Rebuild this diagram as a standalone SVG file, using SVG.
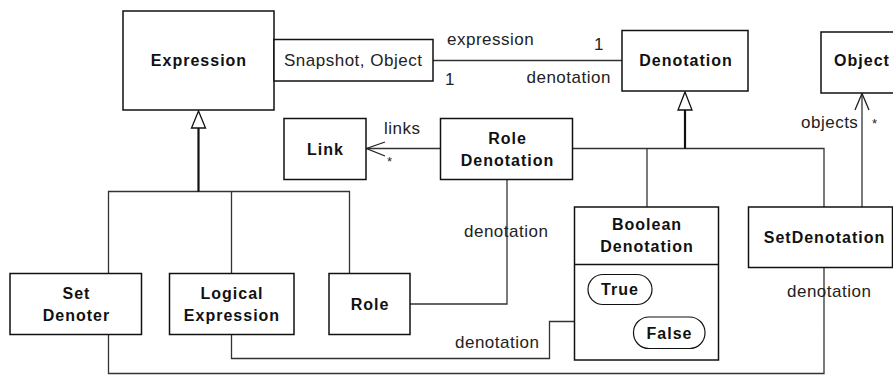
<svg xmlns="http://www.w3.org/2000/svg" width="893" height="376" viewBox="0 0 893 376">
  <defs>
    <style>
      .box { fill: #ffffff; stroke: #111111; stroke-width: 1.5; }
      .pill { fill: #ffffff; stroke: #111111; stroke-width: 1.2; }
      .name { font-family: "Liberation Sans", Arial, sans-serif; font-size: 16px; font-weight: bold; letter-spacing: 1px; fill: #111111; text-anchor: middle; }
      .lbl { font-family: "Liberation Sans", Arial, sans-serif; font-size: 17px; letter-spacing: 0.5px; fill: #222222; }
      .star { font-family: "Liberation Sans", Arial, sans-serif; font-size: 13px; fill: #222222; }
      .wire { fill: none; stroke: #333333; stroke-width: 1.3; }
      .stem { fill: none; stroke: #111111; stroke-width: 2.2; }
      .tri { fill: #ffffff; stroke: #111111; stroke-width: 1.3; }
      .open { fill: none; stroke: #222222; stroke-width: 1.3; }
    </style>
  </defs>
  <rect width="893" height="376" fill="#ffffff"/>

  <!-- connectors -->
  <g id="connectors">
    <!-- qualified association Expression / Denotation -->
    <line class="wire" x1="433" y1="60.5" x2="622" y2="60.5"/>
    <!-- Expression generalization tree -->
    <path class="wire" d="M108.5 273.5 V191.5 H349.5 V273.5 M231.5 191.5 V273.5"/>
    <path class="stem" d="M198.5 128 V191.5"/>
    <polygon class="tri" points="198.5,111 191.5,128 205.5,128"/>
    <!-- Denotation generalization tree -->
    <path class="wire" d="M572.5 148.5 H824 V207 M647 148.5 V207"/>
    <path class="stem" d="M685 110 V148.5"/>
    <polygon class="tri" points="685,92 678,110 692,110"/>
    <!-- Role Denotation links -> Link -->
    <line class="wire" x1="440" y1="148.5" x2="366.5" y2="148.5"/>
    <polyline class="open" points="385,142 366.5,148.5 385,156"/>
    <!-- Role / Role Denotation -->
    <path class="wire" d="M410 304 H507 V179.5"/>
    <!-- Logical Expression / Boolean Denotation -->
    <path class="wire" d="M231.5 334.5 V358.5 H549.5 V321.5 H574.5"/>
    <!-- Set Denoter / SetDenotation -->
    <path class="wire" d="M108.5 334.5 V373.5 H824 V267.5"/>
    <!-- SetDenotation objects -> Object -->
    <line class="wire" x1="862" y1="207" x2="862" y2="93.5"/>
    <polyline class="open" points="855,110 862,93.5 869,110"/>
  </g>

  <!-- connector labels -->
  <g id="labels">
    <text class="lbl" x="447" y="45">expression</text>
    <text class="lbl" x="594" y="50">1</text>
    <text class="lbl" x="445" y="85">1</text>
    <text class="lbl" x="526.5" y="83">denotation</text>
    <text class="lbl" x="384" y="134">links</text>
    <text class="star" x="387" y="166">*</text>
    <text class="lbl" x="801" y="128">objects</text>
    <text class="star" x="872" y="128">*</text>
    <text class="lbl" x="464" y="237">denotation</text>
    <text class="lbl" x="455" y="348">denotation</text>
    <text class="lbl" x="787" y="297">denotation</text>
  </g>

  <g id="expression">
    <rect class="box" x="123" y="11" width="151" height="99"/>
    <text class="name" x="199" y="66">Expression</text>
  </g>
  <g id="qualifier">
    <rect class="box" x="274" y="39.5" width="159" height="41.5"/>
    <text class="lbl" x="284" y="66">Snapshot, Object</text>
  </g>
  <g id="denotation">
    <rect class="box" x="622" y="30.5" width="126" height="60.5"/>
    <text class="name" x="686" y="66">Denotation</text>
  </g>
  <g id="object">
    <rect class="box" x="821" y="32" width="90" height="61"/>
    <text class="name" x="862" y="66">Object</text>
  </g>
  <g id="link">
    <rect class="box" x="284" y="118.5" width="82" height="61"/>
    <text class="name" x="325.5" y="154.5">Link</text>
  </g>
  <g id="role-denotation">
    <rect class="box" x="440.5" y="118.5" width="132" height="61"/>
    <text class="name" x="507.5" y="143.5">Role</text>
    <text class="name" x="507.5" y="166">Denotation</text>
  </g>
  <g id="set-denoter">
    <rect class="box" x="10" y="273.5" width="131.5" height="61"/>
    <text class="name" x="76.5" y="299">Set</text>
    <text class="name" x="76.5" y="321">Denoter</text>
  </g>
  <g id="logical-expression">
    <rect class="box" x="169.5" y="273.5" width="124.5" height="61"/>
    <text class="name" x="232" y="299">Logical</text>
    <text class="name" x="232" y="321">Expression</text>
  </g>
  <g id="role">
    <rect class="box" x="329" y="273.5" width="81" height="61"/>
    <text class="name" x="370" y="309.5">Role</text>
  </g>
  <g id="boolean-denotation">
    <rect class="box" x="574.5" y="207" width="144" height="153"/>
    <line class="box" x1="574.5" y1="264.5" x2="718.5" y2="264.5"/>
    <text class="name" x="647" y="229.5">Boolean</text>
    <text class="name" x="647" y="252">Denotation</text>
    <rect class="pill" x="588" y="274.5" width="64" height="30" rx="15"/>
    <text class="name" x="620" y="295">True</text>
    <rect class="pill" x="633.5" y="317" width="71.5" height="31.5" rx="15.5"/>
    <text class="name" x="669.5" y="338.5">False</text>
  </g>
  <g id="set-denotation">
    <rect class="box" x="748.5" y="207" width="144" height="60.5"/>
    <text class="name" x="824.5" y="243">SetDenotation</text>
  </g>
</svg>
